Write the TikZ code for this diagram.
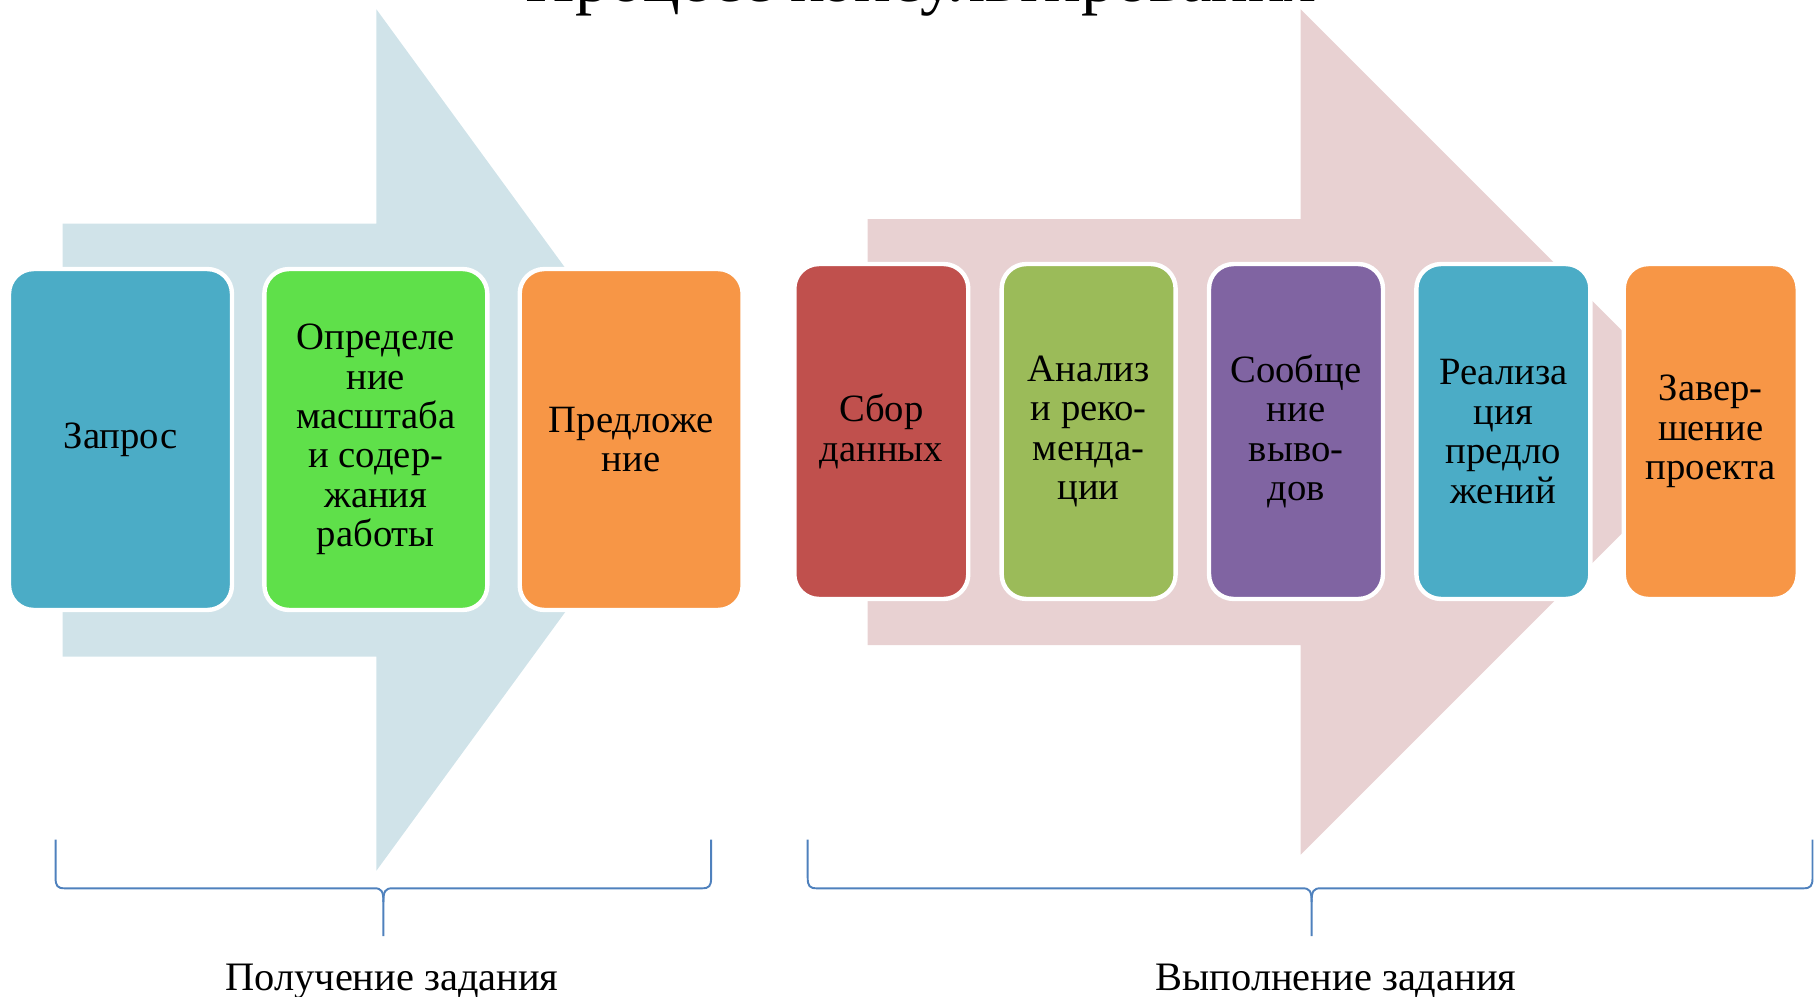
\documentclass[tikz,border=0pt]{standalone}
\usepackage{fontspec}
\setmainfont{Liberation Serif}
\usetikzlibrary{positioning}

\definecolor{boxteal}{HTML}{4BACC6}
\definecolor{boxgreen}{HTML}{5FE04A}
\definecolor{boxorange}{HTML}{F79646}
\definecolor{boxred}{HTML}{C0504D}
\definecolor{boxolive}{HTML}{9BBB59}
\definecolor{boxpurple}{HTML}{8064A2}
\definecolor{arrowblue}{HTML}{D0E3E9}
\definecolor{arrowpink}{HTML}{E8D1D2}
\definecolor{bracecol}{HTML}{4F81BD}

\begin{document}
\begin{tikzpicture}[
  x = 0.02cm, y = 0.02cm,
  stage/.style = {draw = white, line width = 2.5pt, rounded corners = 14pt,
                  align = center, inner sep = 2pt,
                  font = \fontsize{22}{22.4}\selectfont},
  wide/.style = {minimum width = 4.46cm, minimum height = 6.82cm},
  narrow/.style = {minimum width = 3.48cm, minimum height = 6.7cm},
  brace/.style = {draw = bracecol, line width = 1.1pt},
  phase/.style = {anchor = base, font = \fontsize{23}{27}\selectfont},
  ]
  \useasboundingbox (0,0) rectangle (1816,-997);
  \node[anchor = base, font = \fontsize{39}{44}\selectfont] (title) at (921,-2) {Процесс консультирования};

  \fill[arrowblue] (62.5,-223.5) -- (376.4,-223.5) -- (376.4,-9.3) -- (690.8,-440)
    -- (376.4,-870.7) -- (376.4,-656.5) -- (62.5,-656.5) -- cycle;
  \fill[arrowpink] (867.5,-219) -- (1300.7,-219) -- (1300.7,-9.3) -- (1723.4,-432)
    -- (1300.7,-854.7) -- (1300.7,-645) -- (867.5,-645) -- cycle;

  \node[stage, wide, fill = boxteal] (zapros) at (120.5,-439.5) {Запрос};
  \node[stage, wide, fill = boxgreen, right = 0.56cm of zapros] (masshtab)
    {Определе\\ние\\масштаба\\и содер-\\жания\\работы};
  \node[stage, wide, fill = boxorange, right = 0.56cm of masshtab] (predl)
    {Предложе\\ние};

  \node[stage, narrow, fill = boxred] (sbor) at (881.3,-431.5) {Сбор\\данных};
  \node[stage, narrow, fill = boxolive, right = 0.58cm of sbor] (analiz)
    {Анализ\\и реко-\\менда-\\ции};
  \node[stage, narrow, fill = boxpurple, right = 0.58cm of analiz] (vyvody)
    {Сообще\\ние\\выво-\\дов};
  \node[stage, narrow, fill = boxteal, right = 0.58cm of vyvody] (realiz)
    {Реализа\\ция\\предло\\жений};
  \node[stage, narrow, fill = boxorange, right = 0.58cm of realiz] (finish)
    {Завер-\\шение\\проекта};

  \foreach \l/\m/\r in {55.6/383.4/711.1, 807.7/1311.6/1812.5} {
    \draw[brace] (\l,-839.7) -- (\l,-878) .. controls (\l,-886) and (\l+2,-888.3) .. (\l+9,-888.3)
      -- (\m-9,-888.3) .. controls (\m-2,-888.3) and (\m,-891) .. (\m,-902) -- (\m,-936);
    \draw[brace] (\r,-839.7) -- (\r,-878) .. controls (\r,-886) and (\r-2,-888.3) .. (\r-9,-888.3)
      -- (\m+9,-888.3) .. controls (\m+2,-888.3) and (\m,-891) .. (\m,-902);
  }

  \node[phase] (poluch) at (392,-990) {Получение задания};
  \node[phase] (vypoln) at (1336,-990) {Выполнение задания};
\end{tikzpicture}
\end{document}
